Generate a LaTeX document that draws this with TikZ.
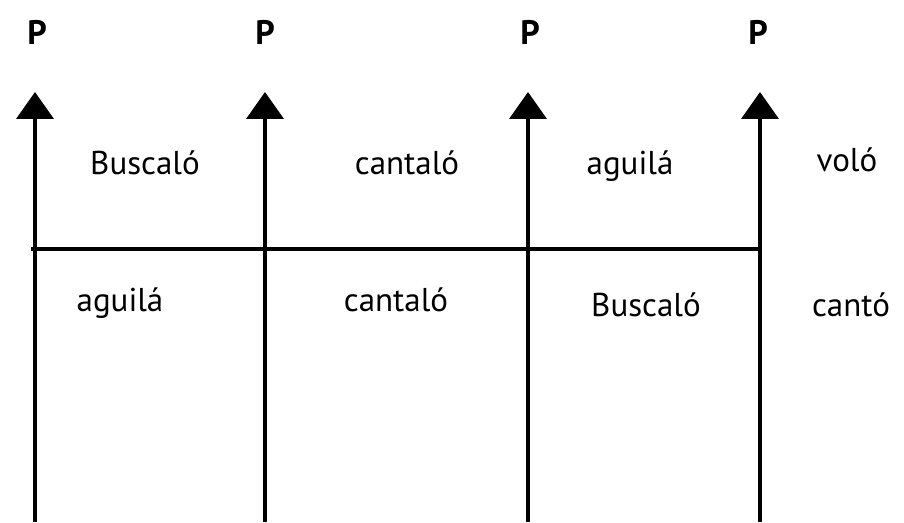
\documentclass[tikz,border=0pt]{standalone}
\usepackage{fontspec}
\setmainfont{PT Sans}
\usepackage{tikz}
\usetikzlibrary{arrows.meta}
\definecolor{psink}{HTML}{000000}
\tikzset{
  psaxis/.style={draw=psink, line width=4pt,
                 -{Triangle[length=27pt, width=37pt]}},
  psrule/.style={draw=psink, line width=3.5pt},
  pshead/.style={font=\fontsize{34}{40}\selectfont\bfseries, text=psink,
                 inner sep=0pt, anchor=base},
  psword/.style={font=\fontsize{33}{39}\selectfont, text=psink,
                 inner sep=0pt, anchor=base},
}
\begin{document}
\begin{tikzpicture}[x=1pt, y=1pt]
  \useasboundingbox (0,0) rectangle (904,522);
  % four upward axes, each with its P on top
  \foreach \i/\x/\px in {1/35/37, 2/265/265, 3/528/530, 4/760/758}
    { \coordinate (b\i) at (\x,0);
      \coordinate (t\i) at (\x,430);
      \node[pshead] (P\i) at (\px,477) {P};
      \draw[psaxis] (b\i) -- (t\i); }
  \coordinate (hl) at (31,273);
  \coordinate (hr) at (760,273);
  \draw[psrule] (hl) -- (hr);
  % words above the rule
  \node[psword] (up1) at (145,347) {Buscaló};
  \node[psword] (up2) at (407,347) {cantaló};
  \node[psword] (up3) at (630,347) {aguilá};
  \node[psword] (up4) at (847,350) {voló};
  % words below the rule
  \node[psword] (lo1) at (120,210) {aguilá};
  \node[psword] (lo2) at (396,210) {cantaló};
  \node[psword] (lo3) at (646,205) {Buscaló};
  \node[psword] (lo4) at (851,205) {cantó};
\end{tikzpicture}
\end{document}
